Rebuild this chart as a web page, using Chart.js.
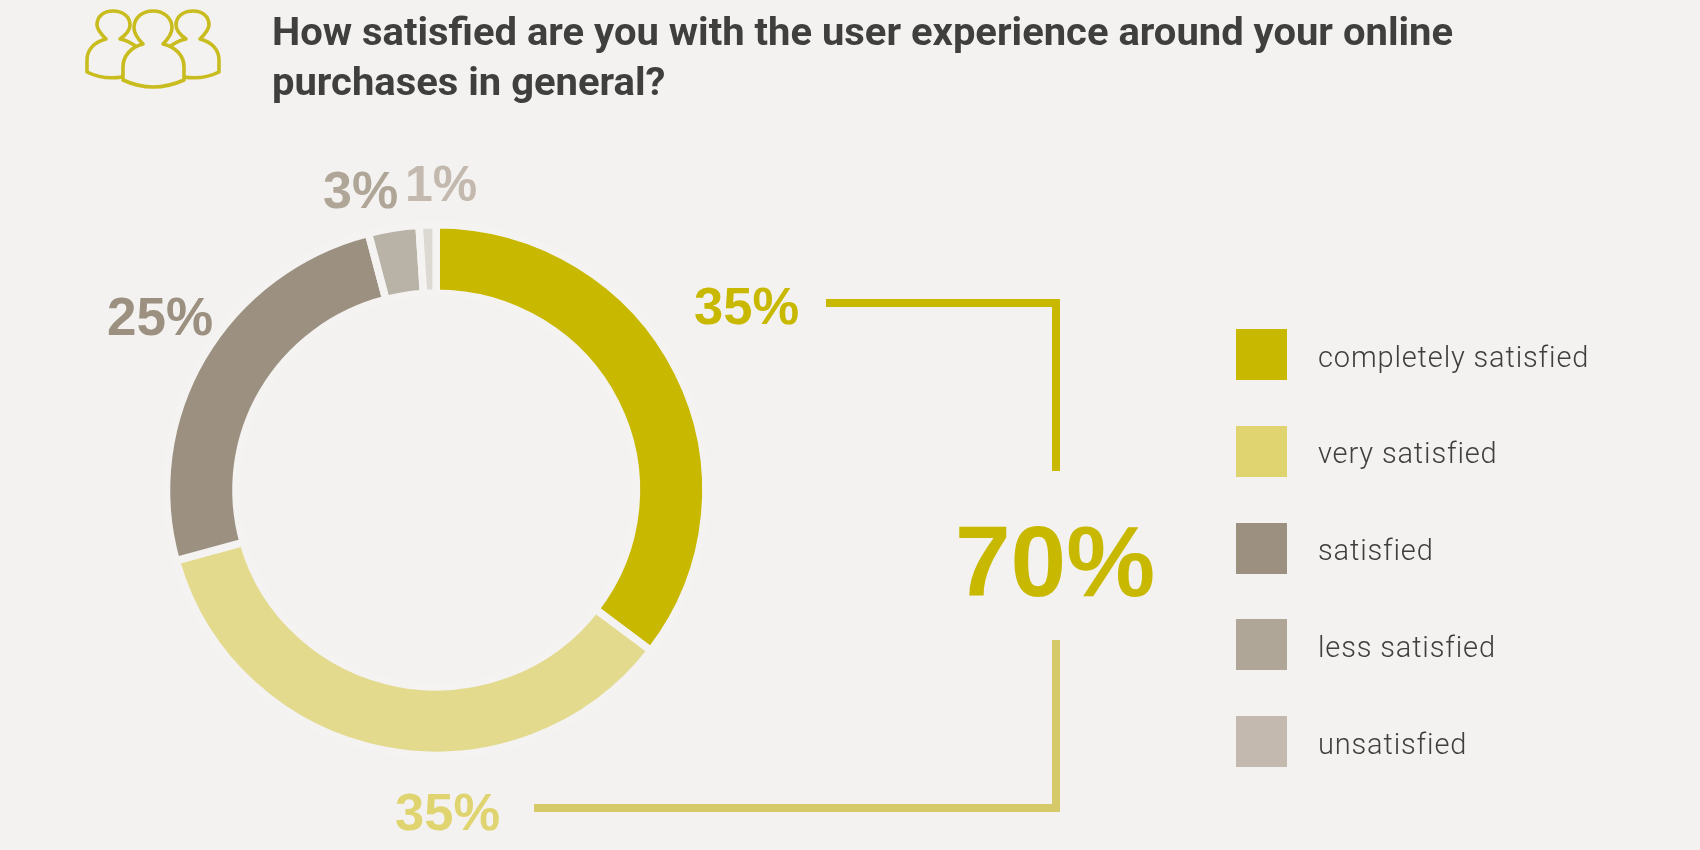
<!DOCTYPE html>
<html>
<head>
<meta charset="utf-8">
<script src="https://cdn.jsdelivr.net/npm/chart.js@4"></script>
<style>
  html, body { margin: 0; padding: 0; width: 1700px; height: 850px; overflow: hidden; background: #f3f2f0; }
  #pie { position: absolute; left: 0; top: 0; }
  .txt { position: absolute; line-height: 0; white-space: pre; transform-origin: left center; }
  .box { position: absolute; }
  svg { position: absolute; left: 0; top: 0; }
</style>
</head>
<body>
<canvas id="pie" width="1700" height="850"></canvas>
<svg width="300" height="110" fill="#f3f2f0" stroke="#c9bc1e" stroke-width="3.6" stroke-linejoin="round">
  <path d="M106,39 C100,33 97,29 97,25 C97,16 104,11 113,11 C122,11 130,16 130,25 C130,29 127,34 120,39 C127,40 133,44 138,48 L125,70 L122,77 Q103,80 87,72 L87,60 C87,50 94,42 106,39 Z"/>
  <path transform="translate(306,0) scale(-1,1)" d="M106,39 C100,33 97,29 97,25 C97,16 104,11 113,11 C122,11 130,16 130,25 C130,29 127,34 120,39 C127,40 133,44 138,48 L125,70 L122,77 Q103,80 87,72 L87,60 C87,50 94,42 106,39 Z"/>
  <path d="M143,44 C137,38 134,33 134,28 C134,17 143,11 153,11 C164,11 172,18 172,28 C172,33 169,38 163,44 C176,47 184,56 184,67 L184,80 Q153,94 123,80 L123,67 C123,56 131,47 143,44 Z"/>
</svg>
<script>
const categories = ["completely satisfied", "very satisfied", "satisfied", "less satisfied", "unsatisfied"];
const values = [35, 35, 25, 3, 1];
const sliceColors = ["#c8b900", "#e4da8e", "#9c9181", "#b9b2a7", "#dcd8d2"];
const swatchColors = ["#c8b900", "#e0d470", "#9c9181", "#b0a698", "#c3b9ae"];
const labelColors = ["#c8b900", "#e0d470", "#9c9181", "#b0a698", "#c3b9ae"];
const titleLines = ["How satisfied are you with the user experience around your online", "purchases in general?"];
const totalLabel = "70%";

const BOLD = '"Liberation Sans"';
const TITLE = 'Roboto';
const LIGHT = 'Roboto';

// the original ring is a little wider than tall
const stretchX = 1.017;

const measure = document.createElement("canvas").getContext("2d");
function putText(text, x, baseline, size, weight, color, family, spacing, squeeze) {
    measure.font = weight + " " + size + "px " + family;
    const m = measure.measureText(text);
    const el = document.createElement("div");
    el.className = "txt";
    el.textContent = text;
    el.style.left = x + "px";
    el.style.top = (baseline - (m.fontBoundingBoxAscent - m.fontBoundingBoxDescent) / 2) + "px";
    el.style.font = weight + " " + size + "px " + family;
    el.style.lineHeight = "0";
    el.style.color = color;
    if (spacing) el.style.letterSpacing = spacing + "px";
    if (squeeze) el.style.transform = "scaleX(" + squeeze + ")";
    document.body.appendChild(el);
}
function putBox(x, y, w, h, color) {
    const el = document.createElement("div");
    el.className = "box";
    el.style.cssText = "left:" + x + "px;top:" + y + "px;width:" + w + "px;height:" + h + "px;background:" + color;
    document.body.appendChild(el);
}

const stretchRing = {
    id: "stretchRing",
    beforeDatasetsDraw(chart) {
        const a = chart.chartArea;
        const cx = (a.left + a.right) / 2;
        chart.ctx.save();
        chart.ctx.translate(cx, 0);
        chart.ctx.scale(stretchX, 1);
        chart.ctx.translate(-cx, 0);
    },
    afterDatasetsDraw(chart) {
        chart.ctx.restore();
    },
};

const pieConfig = {
    type: "doughnut",
    data: {
        labels: categories,
        datasets: [
            {
                data: values,
                backgroundColor: sliceColors,
                // background coloured border makes the straight gaps between slices
                borderColor: "#f4f3f1",
                borderWidth: 7.5,
                borderAlign: "center",
                borderJoinStyle: "miter",
            },
        ],
    },
    options: {
        responsive: false,
        animation: false,
        cutout: "74.2%",
        layout: { padding: { left: 167.2, right: 994.8, top: 221, bottom: 91 } },
        plugins: { legend: { display: false }, tooltip: { enabled: false } },
    },
    plugins: [stretchRing],
};
window.myPie = new Chart(document.getElementById("pie"), pieConfig);

// title, squeezed to the width of the condensed original
measure.font = "bold 39px " + TITLE;
const titleSqueeze = 1181 / measure.measureText(titleLines[0]).width;
putText(titleLines[0], 272, 45, 39, "bold", "#3f3f3d", TITLE, 0, titleSqueeze);
putText(titleLines[1], 272, 95, 39, "bold", "#3f3f3d", TITLE, 0, titleSqueeze);

// percent labels
putText(values[0] + "%", 694, 324, 52.5, "bold", labelColors[0], BOLD);
putText(values[1] + "%", 395, 830, 52.5, "bold", labelColors[1], BOLD);
putText(values[2] + "%", 107, 335, 53, "bold", labelColors[2], BOLD);
putText(values[3] + "%", 323, 208, 52, "bold", labelColors[3], BOLD);
putText(values[4] + "%", 405, 201, 50, "bold", labelColors[4], BOLD);
putText(totalLabel, 955, 596, 100, "bold", labelColors[0], BOLD);

// brackets joining the two top answers to the total
putBox(826, 299, 233.5, 8, "#c8b900");
putBox(1052, 299, 7.5, 172, "#c8b900");
putBox(534, 804, 525.5, 8, "#d6c96a");
putBox(1052, 640, 7.5, 172, "#d6c96a");

// legend
categories.forEach(function (name, i) {
    const y = 329 + i * 96.8;
    putBox(1236, y, 51, 51, swatchColors[i]);
    putText(name, 1318, y + 37.5, 29, "300", "#3f3f3f", LIGHT, 0.85);
});
</script>
</body>
</html>
